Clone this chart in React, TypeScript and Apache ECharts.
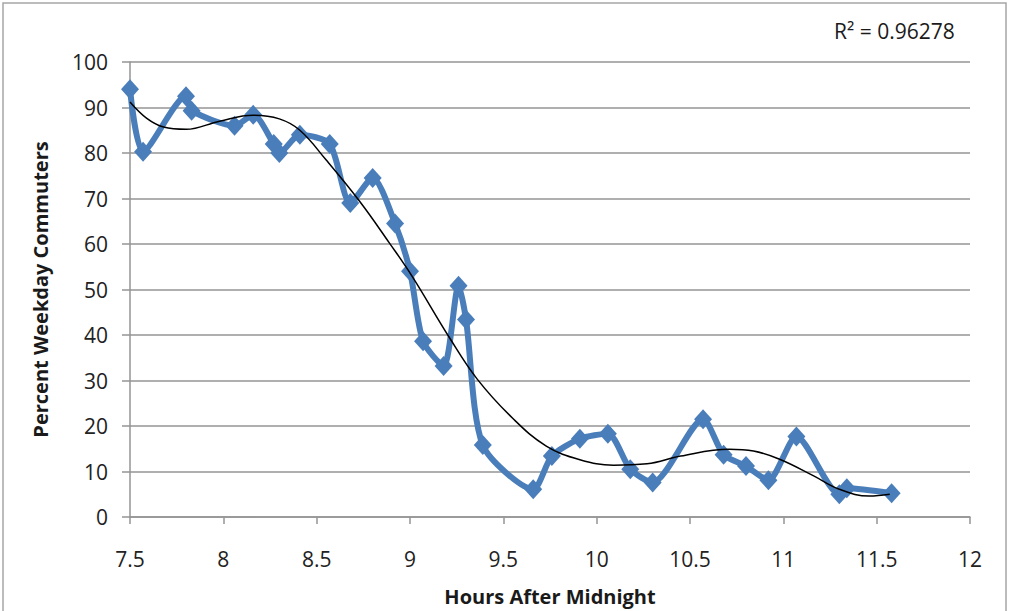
import React, { useEffect, useRef } from "react";
import * as echarts from "echarts";

const hours = [7.5, 7.57, 7.8, 7.83, 8.06, 8.16, 8.27, 8.3, 8.41, 8.57, 8.68, 8.8, 8.92, 9.0, 9.07, 9.18, 9.26, 9.3, 9.39, 9.66, 9.76, 9.91, 10.06, 10.18, 10.3, 10.57, 10.68, 10.8, 10.92, 11.07, 11.3, 11.34, 11.58];
const percent = [94, 80.3, 92.5, 89.3, 86, 88.4, 82, 80, 84, 82, 69, 74.5, 64.5, 54, 38.6, 33.2, 50.8, 43.4, 15.8, 6.1, 13.4, 17.2, 18.3, 10.5, 7.6, 21.5, 13.7, 11.2, 8.1, 17.7, 5, 6.3, 5.2];

const trendX = [7.5, 7.59, 7.68, 7.8, 7.98, 8.16, 8.3, 8.41, 8.55, 8.73, 8.89, 9.01, 9.21, 9.36, 9.55, 9.73, 9.91, 10.09, 10.27, 10.45, 10.71, 10.84, 10.98, 11.16, 11.3, 11.46, 11.57];
const trendY = [91.2, 87.6, 85.7, 85.2, 87.0, 88.3, 87.5, 85, 78.5, 69.4, 60.2, 53, 39.5, 30.3, 21.7, 15.6, 12.6, 11.4, 11.7, 13.4, 14.9, 14.5, 12.7, 9.1, 6.1, 4.6, 5.0];

const xTitle = "Hours After Midnight";
const yTitle = "Percent Weekday Commuters";
const rSquaredLabel = "R² = 0.96278";

export default function App() {
  const ref = useRef<HTMLDivElement>(null);
  useEffect(() => {
    if (!ref.current) return;
    const chart = echarts.init(ref.current, null, { renderer: "svg" });
    const font = "'Open Sans', 'DejaVu Sans', sans-serif";
    const gridColor = "#949494";
    chart.setOption({
      animation: false,
      backgroundColor: "#ffffff",
      textStyle: { fontFamily: font },
      grid: { left: 130, width: 840, top: 62, height: 457 },
      xAxis: {
        type: "value",
        min: 7.5,
        max: 12,
        interval: 0.5,
        name: xTitle,
        nameLocation: "middle",
        nameGap: 69,
        nameTextStyle: { fontSize: 20, fontWeight: "bold", color: "#1a1a1a", fontFamily: font },
        axisLine: { show: true, onZero: false, lineStyle: { color: gridColor, width: 1.5 } },
        axisTick: { show: true, length: 7, lineStyle: { color: gridColor, width: 1.5 } },
        axisLabel: { fontSize: 21, color: "#222", margin: 31, fontFamily: font },
        splitLine: { show: false },
      },
      yAxis: {
        type: "value",
        min: 0,
        max: 100,
        interval: 10,
        name: yTitle,
        nameLocation: "middle",
        nameGap: 80,
        nameTextStyle: { fontSize: 20, fontWeight: "bold", color: "#1a1a1a", fontFamily: font },
        axisLine: { show: true, lineStyle: { color: gridColor, width: 1.5 } },
        axisTick: { show: true, length: 8, lineStyle: { color: gridColor, width: 1.5 } },
        axisLabel: { fontSize: 21, color: "#222", margin: 22, fontFamily: font },
        splitLine: { show: true, lineStyle: { color: gridColor, width: 1.5 } },
      },
      graphic: [
        {
          type: "rect",
          shape: { x: 3, y: 3, width: 1003, height: 620 },
          style: { fill: "none", stroke: "#a6a6a6", lineWidth: 1.5 },
          silent: true,
        },
        {
          type: "text",
          left: 834,
          top: 20,
          style: { text: rSquaredLabel, fontSize: 21, fill: "#1a1a1a", fontFamily: font },
        },
      ],
      series: [
        {
          type: "line",
          data: hours.map((h, i) => [h, percent[i]]),
          smooth: 0.25,
          symbol: "diamond",
          symbolSize: [18, 20],
          showSymbol: true,
          lineStyle: { color: "#4a7ebb", width: 6 },
          itemStyle: { color: "#4a7ebb" },
          z: 2,
        },
        {
          type: "line",
          data: trendX.map((h, i) => [h, trendY[i]]),
          smooth: 0.4,
          symbol: "none",
          lineStyle: { color: "#000000", width: 1.5 },
          z: 3,
        },
      ],
    });
    return () => chart.dispose();
  }, []);
  return (
    <div
      ref={ref}
      style={{ position: "fixed", left: 0, top: 0, width: 1012, height: 611, background: "#fff" }}
    />
  );
}
